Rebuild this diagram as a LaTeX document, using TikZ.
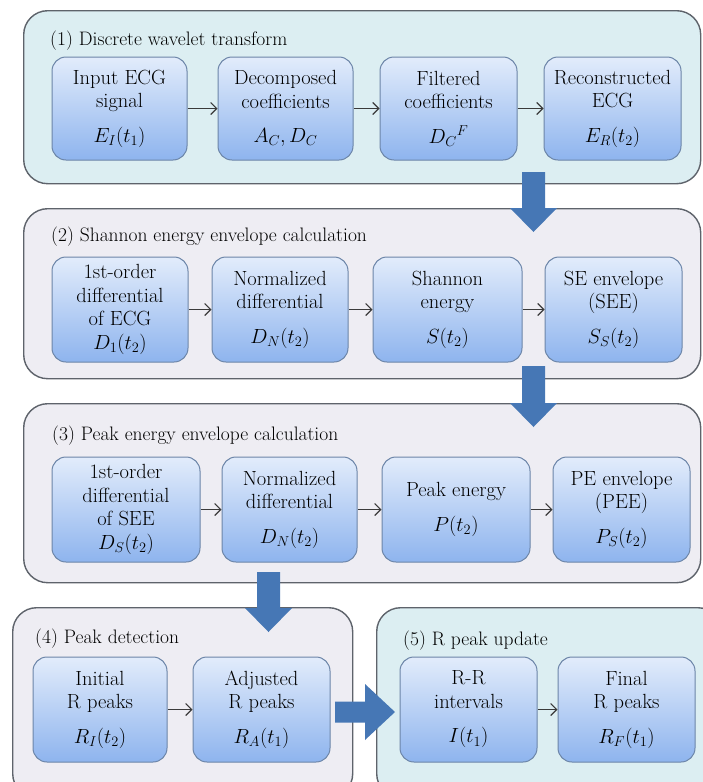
\RequirePackage{fix-cm}
\documentclass[tikz,border=0pt]{standalone}
\usetikzlibrary{arrows.meta,calc}

\definecolor{cyanpanel}{HTML}{DCEEF2}
\definecolor{greypanel}{HTML}{EEEDF3}
\definecolor{panelline}{HTML}{5E636B}
\definecolor{boxtop}{HTML}{E2ECFB}
\definecolor{boxbottom}{HTML}{8EB4EE}
\definecolor{boxline}{HTML}{6C85A8}
\definecolor{bigarrow}{HTML}{4677B5}
\definecolor{flowline}{HTML}{3A3A3A}

\tikzset{
  panel/.style={draw=panelline, line width=1.4pt, rounded corners=24pt,
    anchor=north west, inner sep=0pt},
  paneltitle/.style={anchor=base west, inner sep=0pt,
    font=\fontsize{19.5}{23}\selectfont},
  stepbox/.style={draw=boxline, line width=1pt, rounded corners=14pt,
    top color=boxtop, bottom color=boxbottom, align=center,
    inner sep=2pt, font=\fontsize{20.5}{23.5}\selectfont},
  flow/.style={draw=flowline, line width=1.1pt,
    -{Straight Barb[length=6pt,width=12pt,line width=1.1pt]}},
}

% thick block arrow pointing down, from top-centre coordinate #1 to tip #2
\newcommand\blockdown[2]{%
  \fill[bigarrow] let \p1=(#1), \p2=(#2) in
    (\x1-11.5pt,\y1) -- (\x1+11.5pt,\y1) -- (\x1+11.5pt,\y2+24pt)
    -- (\x1+23.5pt,\y2+24pt) -- (\x2,\y2) -- (\x1-23.5pt,\y2+24pt)
    -- (\x1-11.5pt,\y2+24pt) -- cycle;}
% thick block arrow pointing right, from left-centre coordinate #1 to tip #2
\newcommand\blockright[2]{%
  \fill[bigarrow] let \p1=(#1), \p2=(#2) in
    (\x1,\y1+10.5pt) -- (\x2-30pt,\y1+10.5pt) -- (\x2-30pt,\y1+28pt)
    -- (\x2,\y2) -- (\x2-30pt,\y1-28pt) -- (\x2-30pt,\y1-10.5pt)
    -- (\x1,\y1-10.5pt) -- cycle;}

\begin{document}
\begin{tikzpicture}[x=1pt,y=-1pt]
\useasboundingbox[fill=white] (0,0) rectangle (703,782);

% ---- stage panels ----
\node[panel, fill=cyanpanel, minimum width=677pt, minimum height=173pt] (p1) at (23,10) {};
\node[panel, fill=greypanel, minimum width=677pt, minimum height=170pt] (p2) at (23,208) {};
\node[panel, fill=greypanel, minimum width=677pt, minimum height=179pt] (p3) at (23,403) {};
\node[panel, fill=greypanel, minimum width=340pt, minimum height=190pt] (p4) at (12,607) {};
\node[panel, fill=cyanpanel, minimum width=345pt, minimum height=190pt] (p5) at (376,607) {};

\node[paneltitle] (t1) at (50,45)  {(1) Discrete wavelet transform};
\node[paneltitle] (t2) at (51,241) {(2) Shannon energy envelope calculation};
\node[paneltitle] (t3) at (52,440) {(3) Peak energy envelope calculation};
\node[paneltitle] (t4) at (35,643) {(4) Peak detection};
\node[paneltitle] (t5) at (403,645) {(5) R peak update};

% ---- block arrows between stages ----
\coordinate (a1s) at (533.5,172); \coordinate (a1e) at (533.5,232);
\coordinate (a2s) at (533.5,366); \coordinate (a2e) at (533.5,427);
\coordinate (a3s) at (268.5,572); \coordinate (a3e) at (268.5,632);
\coordinate (a4s) at (335,712);   \coordinate (a4e) at (395,712);
\blockdown{a1s}{a1e}
\blockdown{a2s}{a2e}
\blockdown{a3s}{a3e}
\blockright{a4s}{a4e}

% ---- stage 1 ----
\node[stepbox, minimum width=135pt, minimum height=103pt] (b11) at (119.5,108.5)
  {Input ECG\\signal\\[11pt]$E_I(t_1)$};
\node[stepbox, minimum width=135pt, minimum height=103pt] (b12) at (285.5,108.5)
  {Decomposed\\coefficients\\[11pt]$A_C, D_C$};
\node[stepbox, minimum width=137pt, minimum height=103pt] (b13) at (448.5,108.5)
  {Filtered\\coefficients\\[11pt]$D_C{}^F$};
\node[stepbox, minimum width=137pt, minimum height=103pt] (b14) at (612.5,108.5)
  {Reconstructed\\ECG\\[11pt]$E_R(t_2)$};
\draw[flow] (b11) -- (b12);
\draw[flow] (b12) -- (b13);
\draw[flow] (b13) -- (b14);

% ---- stage 2 ----
\node[stepbox, minimum width=136pt, minimum height=105pt] (b21) at (120,309.5)
  {1st-order\\differential\\of ECG\\$D_1(t_2)$};
\node[stepbox, minimum width=136pt, minimum height=105pt] (b22) at (280,309.5)
  {Normalized\\differential\\[11pt]$D_N(t_2)$};
\node[stepbox, minimum width=149pt, minimum height=105pt] (b23) at (447.5,309.5)
  {Shannon\\energy\\[11pt]$S(t_2)$};
\node[stepbox, minimum width=137pt, minimum height=105pt] (b24) at (613.5,309.5)
  {SE envelope\\(SEE)\\[11pt]$S_S(t_2)$};
\draw[flow] (b21) -- (b22);
\draw[flow] (b22) -- (b23);
\draw[flow] (b23) -- (b24);

% ---- stage 3 ----
\node[stepbox, minimum width=148pt, minimum height=105pt] (b31) at (126,509.5)
  {1st-order\\differential\\of SEE\\$D_S(t_2)$};
\node[stepbox, minimum width=135pt, minimum height=105pt] (b32) at (289.5,509.5)
  {Normalized\\differential\\[11pt]$D_N(t_2)$};
\node[stepbox, minimum width=148pt, minimum height=105pt] (b33) at (456,509.5)
  {Peak energy\\[11pt]$P(t_2)$};
\node[stepbox, minimum width=137pt, minimum height=105pt] (b34) at (621.5,509.5)
  {PE envelope\\(PEE)\\[11pt]$P_S(t_2)$};
\draw[flow] (b31) -- (b32);
\draw[flow] (b32) -- (b33);
\draw[flow] (b33) -- (b34);

% ---- stage 4 ----
\node[stepbox, minimum width=134pt, minimum height=105pt] (b41) at (100,709.5)
  {Initial\\R peaks\\[11pt]$R_I(t_2)$};
\node[stepbox, minimum width=137pt, minimum height=105pt] (b42) at (261.5,709.5)
  {Adjusted\\R peaks\\[11pt]$R_A(t_1)$};
\draw[flow] (b41) -- (b42);

% ---- stage 5 ----
\node[stepbox, minimum width=137pt, minimum height=105pt] (b51) at (468.5,709.5)
  {R-R\\intervals\\[11pt]$I(t_1)$};
\node[stepbox, minimum width=137pt, minimum height=105pt] (b52) at (626.5,709.5)
  {Final\\R peaks\\[11pt]$R_F(t_1)$};
\draw[flow] (b51) -- (b52);
\end{tikzpicture}
\end{document}
